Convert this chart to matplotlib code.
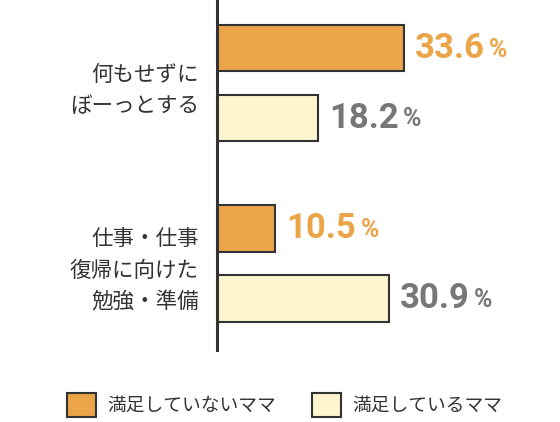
import matplotlib
matplotlib.use('Agg')
import matplotlib.pyplot as plt
import numpy as np
from matplotlib.patches import Patch

plt.rcParams['font.family'] = ['Noto Sans CJK JP', 'DejaVu Sans']

categories = ['何もせずに\nぼーっとする', '仕事・仕事\n復帰に向けた\n勉強・準備']
not_satisfied = [33.6, 10.5]
satisfied = [18.2, 30.9]
series_names = ['満足していないママ', '満足しているママ']

orange = '#EBA447'
cream = '#FCF5CE'
edge = '#333333'

fig = plt.figure(figsize=(5.6, 4.22), dpi=100)
ax = fig.add_axes([217 / 560, 72 / 422, 323 / 560, 350 / 422])

pos = np.arange(len(categories))
off = 0.194
h = 0.256

ax.barh(pos - off, not_satisfied, height=h, color=orange, edgecolor=edge, linewidth=1.5)
ax.barh(pos + off, satisfied, height=h, color=cream, edgecolor=edge, linewidth=1.5)

ax.set_xlim(0, 58.1)
ax.set_ylim(1.48, -0.461)

for s in ['top', 'right', 'bottom']:
    ax.spines[s].set_visible(False)
ax.spines['left'].set_linewidth(2.2)
ax.spines['left'].set_color(edge)
ax.set_xticks([])
ax.set_yticks(pos)
ax.set_yticklabels(categories, fontsize=15.5, color='#333333', linespacing=1.55)
ax.tick_params(axis='y', length=0, pad=13)

def label(vals, ys, color):
    for v, y in zip(vals, ys):
        t = ax.annotate(f'{v}', (v, y), xytext=(8, 0), textcoords='offset points',
                        ha='left', va='center', fontsize=25, fontweight='bold',
                        color=color, family='Roboto')
        ax.annotate('%', (1, 0.5), xycoords=t, xytext=(3, -1), textcoords='offset points',
                    ha='left', va='center', fontsize=18, fontweight='bold',
                    color=color, family='Roboto')

label(not_satisfied, pos - off, orange)
label(satisfied, pos + off, '#777777')

handles = [Patch(facecolor=orange, edgecolor=edge, linewidth=1.5),
           Patch(facecolor=cream, edgecolor=edge, linewidth=1.5)]
fig.legend(handles, series_names, loc='center left', bbox_to_anchor=(50 / 560, 1 - 405 / 422),
           ncol=2, frameon=False, fontsize=13.5, handlelength=1.55, handleheight=1.55,
           handletextpad=0.6, columnspacing=1.9, labelcolor='#333333')

fig.savefig('out.png', dpi=100)
